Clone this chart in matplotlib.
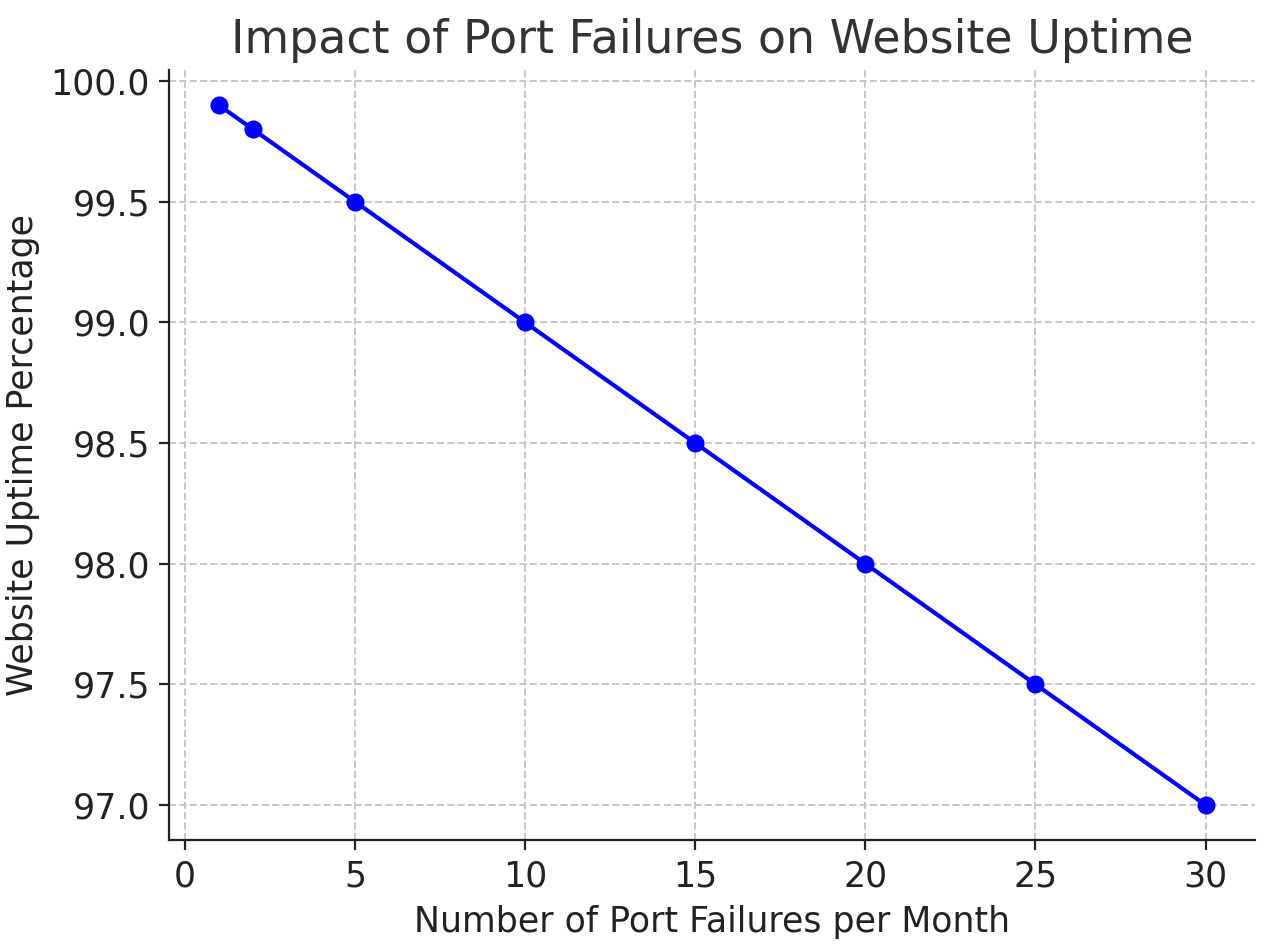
import matplotlib
matplotlib.use("Agg")
import matplotlib.pyplot as plt

failures = [1, 2, 5, 10, 15, 20, 25, 30]
uptime = [99.9, 99.8, 99.5, 99.0, 98.5, 98.0, 97.5, 97.0]

fig, ax = plt.subplots(figsize=(6.37, 4.735), dpi=200)
ax.plot(failures, uptime, color="blue", marker="o", markersize=5.5, linewidth=1.5)
ax.set_title("Impact of Port Failures on Website Uptime", fontsize=16.5, color="#333333")
ax.set_xlabel("Number of Port Failures per Month", fontsize=12.5, color="#222222")
ax.set_ylabel("Website Uptime Percentage", fontsize=12.5, color="#222222")
ax.tick_params(labelsize=12.5, colors="#222222")
ax.grid(True, linestyle="--", color="#c8c8c8", linewidth=0.7)
for s in ["top", "right"]:
    ax.spines[s].set_visible(False)
for s in ["left", "bottom"]:
    ax.spines[s].set_color("#222222")
fig.subplots_adjust(left=0.133, right=0.985, top=0.926, bottom=0.113)
fig.savefig("out.png", dpi=200)
